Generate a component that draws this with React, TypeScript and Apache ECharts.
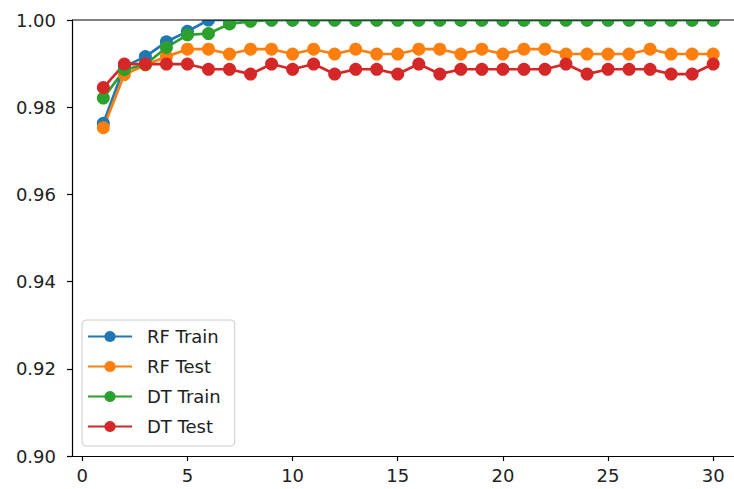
import React, { useEffect, useRef } from "react";
import * as echarts from "echarts";

const xValues = [1, 2, 3, 4, 5, 6, 7, 8, 9, 10, 11, 12, 13, 14, 15, 16, 17, 18, 19, 20, 21, 22, 23, 24, 25, 26, 27, 28, 29, 30];
const xTicks = [0, 5, 10, 15, 20, 25, 30];
const seriesNames = ["RF Train", "RF Test", "DT Train", "DT Test"];
const colors = ["#1f77b4", "#ff7f0e", "#2ca02c", "#d62728"];

const rfTrain = [0.9763, 0.9893, 0.9916, 0.995, 0.9974, 1, 1, 1, 1, 1, 1, 1, 1, 1, 1, 1, 1, 1, 1, 1, 1, 1, 1, 1, 1, 1, 1, 1, 1, 1];
const rfTest = [0.9753, 0.9875, 0.9897, 0.9916, 0.9933, 0.9933, 0.9922, 0.9933, 0.9933, 0.9922, 0.9933, 0.9922, 0.9933, 0.9922, 0.9922, 0.9933, 0.9933, 0.9922, 0.9933, 0.9922, 0.9933, 0.9933, 0.9922, 0.9922, 0.9922, 0.9922, 0.9933, 0.9922, 0.9922, 0.9922];
const dtTrain = [0.9821, 0.9886, 0.9898, 0.9937, 0.9966, 0.9969, 0.9991, 0.9997, 1, 1, 1, 1, 1, 1, 1, 1, 1, 1, 1, 1, 1, 1, 1, 1, 1, 1, 1, 1, 1, 1];
const dtTest = [0.9845, 0.9899, 0.9899, 0.9899, 0.9899, 0.9887, 0.9887, 0.9876, 0.9899, 0.9887, 0.9899, 0.9876, 0.9887, 0.9887, 0.9876, 0.9899, 0.9876, 0.9887, 0.9887, 0.9887, 0.9887, 0.9887, 0.9899, 0.9876, 0.9887, 0.9887, 0.9887, 0.9876, 0.9876, 0.9899];

const allSeries = [rfTrain, rfTest, dtTrain, dtTest];

const FONT = "DejaVu Sans";

export default function App() {
  const ref = useRef<HTMLDivElement>(null);
  useEffect(() => {
    if (!ref.current) return;
    const chart = echarts.init(ref.current, null, { renderer: "svg" });
    const GRID_LEFT = 72;
    const GRID_TOP = 20;
    chart.setOption({
      animation: false,
      backgroundColor: "#ffffff",
      grid: { left: GRID_LEFT, top: GRID_TOP, right: 0, bottom: 33, show: false },
      legend: {
        orient: "vertical",
        left: 82,
        top: 320,
        data: seriesNames,
        itemWidth: 44,
        itemHeight: 14,
        itemGap: 9,
        padding: [6, 14, 9, 5],
        backgroundColor: "rgba(255,255,255,0.8)",
        borderColor: "#cccccc",
        borderWidth: 1,
        borderRadius: 4,
        textStyle: { fontFamily: FONT, fontSize: 18, color: "#222", lineHeight: 21, padding: [0, 0, 0, 10] },
      },
      xAxis: {
        type: "value",
        min: -0.49,
        max: 30.99,
        splitLine: { show: false },
        axisLine: { show: true, onZero: false, lineStyle: { color: "#000", width: 1.2 } },
        axisTick: { show: true, length: 5, lineStyle: { color: "#000", width: 1.2 }, customValues: xTicks },
        axisLabel: { color: "#222", fontFamily: FONT, fontSize: 18, margin: 10, customValues: xTicks, formatter: (v: number) => String(v) },
      },
      yAxis: {
        type: "value",
        min: 0.9,
        max: 1.0,
        interval: 0.02,
        splitLine: { show: false },
        axisLine: { show: true, onZero: false, lineStyle: { color: "#000", width: 1.2 } },
        axisTick: { show: true, length: 5, lineStyle: { color: "#000", width: 1.2 } },
        axisLabel: { color: "#222", fontFamily: FONT, fontSize: 18, margin: 16, formatter: (v: number) => v.toFixed(2) },
      },
      series: allSeries.map((vals, i) => ({
        name: seriesNames[i],
        type: "line",
        data: vals.map((v, j) => [xValues[j], v]),
        symbol: "circle",
        symbolSize: 13,
        lineStyle: { color: colors[i], width: 2.7 },
        itemStyle: { color: colors[i] },
        color: colors[i],
        clip: false,
      })),
      graphic: [
        { type: "rect", z: 100, shape: { x: GRID_LEFT + 1, y: 0, width: 734 - GRID_LEFT, height: GRID_TOP }, style: { fill: "#ffffff" } },
        { type: "line", z: 101, shape: { x1: GRID_LEFT, y1: GRID_TOP, x2: 734, y2: GRID_TOP }, style: { stroke: "#000", lineWidth: 1.2 } },
      ],
    });
    return () => chart.dispose();
  }, []);
  return <div ref={ref} style={{ width: 734, height: 489, position: "absolute", left: 0, top: 0 }} />;
}
